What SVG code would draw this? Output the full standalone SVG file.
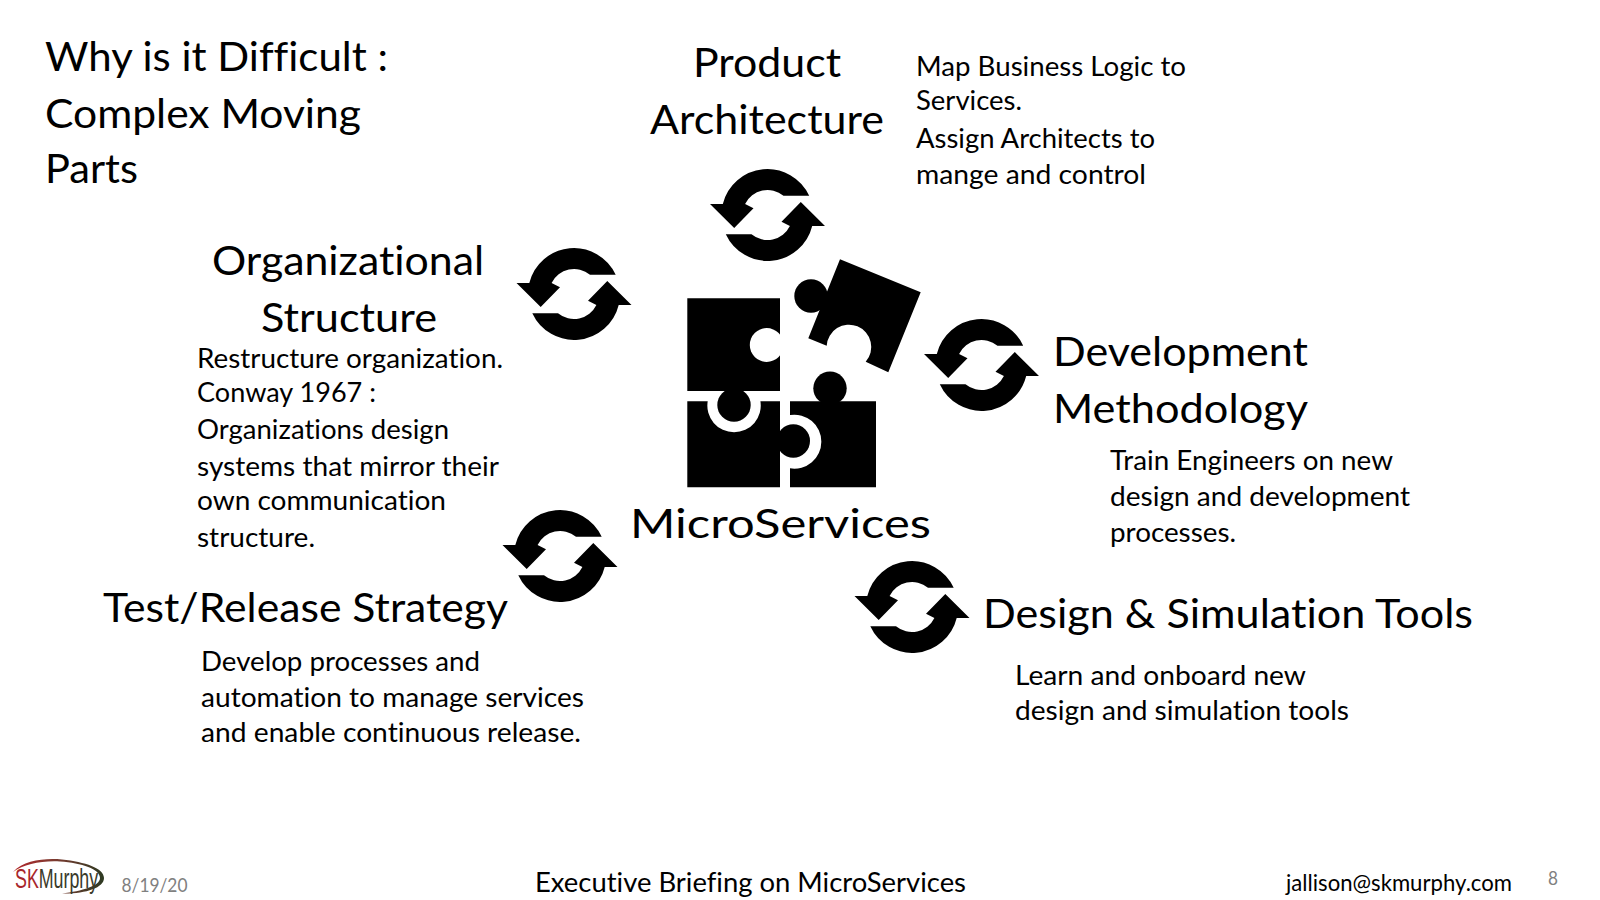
<svg xmlns="http://www.w3.org/2000/svg" width="1600" height="900" viewBox="0 0 1600 900">
<style>
text{font-family:"Lato","Open Sans","Liberation Sans",sans-serif;fill:#000;font-variant-ligatures:none}
.h{font-size:41px;transform:translateY(.5px)}
.b{font-size:27px;transform:translateY(.5px)}
.f{font-size:26px}
.p{fill:#000}
.logo{font-family:"Liberation Sans",sans-serif;font-size:27px;fill:#3a3a2a}
</style>
<defs>
<linearGradient id="sw" x1="0" x2="1" y1="0" y2="0"><stop offset="0" stop-color="#b3262b"/><stop offset="0.45" stop-color="#7d3a30"/><stop offset="1" stop-color="#2d3a22"/></linearGradient>
<g id="cycle">
<path id="half" d="M41.7,-19.3 A46,46 0 0 0 -44.7,-11 L-57.5,-11 L-33.3,13 L-14,-6.7 L-22.4,-11 A25,25 0 0 1 16,-19.3 Z"/>
<use href="#half" transform="rotate(180)"/>
</g>
</defs>
<g id="title">
<text class="h" x="45" y="70" textLength="343" lengthAdjust="spacingAndGlyphs">Why is it Difficult :</text>
<text class="h" x="45" y="127" textLength="316" lengthAdjust="spacingAndGlyphs">Complex Moving</text>
<text class="h" x="45" y="182" textLength="93" lengthAdjust="spacingAndGlyphs">Parts</text>
</g>
<g id="connectors"></g>
<g id="node-puzzle">
<path class="p" d="M687.3,298.3 H780 V391 H687.3 Z"/>
<circle cx="766.7" cy="345" r="16.9" fill="#fff"/>
<circle class="p" cx="734" cy="405" r="16.7"/>
<path class="p" d="M687.3,401.3 H707.7 A26.7,26.7 0 1 0 760.4,401.3 H780 V487.3 H687.3 Z"/>
<path class="p" d="M790,401.3 H876 V487.3 H790 V468.3 A27,27 0 1 0 790,415 Z"/>
<circle class="p" cx="830" cy="388.3" r="16.7"/>
<circle class="p" cx="793.3" cy="441" r="16.7"/>
<path class="p" d="M840,259.3 L920.7,292.3 L888.3,372.3 L865.7,361.7 A22.3,22.3 0 1 0 826.7,345.7 L808.3,338.3 Z"/>
<circle class="p" cx="811" cy="296" r="16.7"/>
</g>
<g id="node-microservices"><text class="h" x="630" y="537" textLength="301" lengthAdjust="spacingAndGlyphs">MicroServices</text></g>
<g id="node-product">
<use href="#cycle" x="767.5" y="215"/>
<text class="h" x="693" y="76.5" textLength="148" lengthAdjust="spacingAndGlyphs">Product</text>
<text class="h" x="650" y="133.5" textLength="234" lengthAdjust="spacingAndGlyphs">Architecture</text>
<text class="b" x="916" y="75.5" textLength="270" lengthAdjust="spacingAndGlyphs">Map Business Logic to</text>
<text class="b" x="916" y="109.5" textLength="106" lengthAdjust="spacingAndGlyphs">Services.</text>
<text class="b" x="916" y="147" textLength="239" lengthAdjust="spacingAndGlyphs">Assign Architects to</text>
<text class="b" x="916" y="183.5" textLength="230" lengthAdjust="spacingAndGlyphs">mange and control</text>
</g>
<g id="node-org">
<use href="#cycle" x="574" y="294"/>
<text class="h" x="212" y="274.5" textLength="272" lengthAdjust="spacingAndGlyphs">Organizational</text>
<text class="h" x="261" y="331.5" textLength="176" lengthAdjust="spacingAndGlyphs">Structure</text>
<text class="b" x="197" y="367" textLength="306" lengthAdjust="spacingAndGlyphs">Restructure organization.</text>
<text class="b" x="197" y="401" textLength="179" lengthAdjust="spacingAndGlyphs">Conway 1967 :</text>
<text class="b" x="197" y="438.5" textLength="252" lengthAdjust="spacingAndGlyphs">Organizations design</text>
<text class="b" x="197" y="475" textLength="302" lengthAdjust="spacingAndGlyphs">systems that mirror their</text>
<text class="b" x="197" y="509" textLength="249" lengthAdjust="spacingAndGlyphs">own communication</text>
<text class="b" x="197" y="546.5" textLength="118" lengthAdjust="spacingAndGlyphs">structure.</text>
</g>
<g id="node-dev">
<use href="#cycle" x="981.5" y="365"/>
<text class="h" x="1053" y="365.5" textLength="255" lengthAdjust="spacingAndGlyphs">Development</text>
<text class="h" x="1053" y="422.5" textLength="255" lengthAdjust="spacingAndGlyphs">Methodology</text>
<text class="b" x="1110" y="469.5" textLength="283" lengthAdjust="spacingAndGlyphs">Train Engineers on new</text>
<text class="b" x="1110" y="505" textLength="300" lengthAdjust="spacingAndGlyphs">design and development</text>
<text class="b" x="1110" y="541.5" textLength="126" lengthAdjust="spacingAndGlyphs">processes.</text>
</g>
<g id="node-test">
<use href="#cycle" x="560" y="556"/>
<text class="h" x="103" y="621" textLength="405" lengthAdjust="spacingAndGlyphs">Test/Release Strategy</text>
<text class="b" x="201" y="670" textLength="279" lengthAdjust="spacingAndGlyphs">Develop processes and</text>
<text class="b" x="201" y="706" textLength="383" lengthAdjust="spacingAndGlyphs">automation to manage services</text>
<text class="b" x="201" y="741.5" textLength="380" lengthAdjust="spacingAndGlyphs">and enable continuous release.</text>
</g>
<g id="node-design">
<use href="#cycle" x="912" y="607"/>
<text class="h" x="983" y="627" textLength="490" lengthAdjust="spacingAndGlyphs">Design &amp; Simulation Tools</text>
<text class="b" x="1015" y="684.5" textLength="291" lengthAdjust="spacingAndGlyphs">Learn and onboard new</text>
<text class="b" x="1015" y="719" textLength="334" lengthAdjust="spacingAndGlyphs">design and simulation tools</text>
</g>
<g id="footer">
<path d="M13,872 C24,860 45,858 62,859.5 C85,862 104,868 104,878 C104,888 85,894 62,893.5 C82,891 100,886 100,878 C100,869 82,863 60,861.5 C42,860.5 24,864 13,872 Z" fill="url(#sw)"/>
<text class="logo" transform="translate(15,887.5) scale(0.66,1)"><tspan style="fill:#a8262b">SK</tspan>Murphy</text>
<text x="121.5" y="892" font-size="20" style="fill:#808080" textLength="66" lengthAdjust="spacingAndGlyphs">8/19/20</text>
<text class="f" x="535" y="892" textLength="431" lengthAdjust="spacingAndGlyphs">Executive Briefing on MicroServices</text>
<text x="1286" y="891" font-size="22.5" textLength="226" lengthAdjust="spacingAndGlyphs">jallison@skmurphy.com</text>
<text x="1548" y="885" font-size="19" style="fill:#808080" textLength="10" lengthAdjust="spacingAndGlyphs">8</text>
</g>
</svg>
